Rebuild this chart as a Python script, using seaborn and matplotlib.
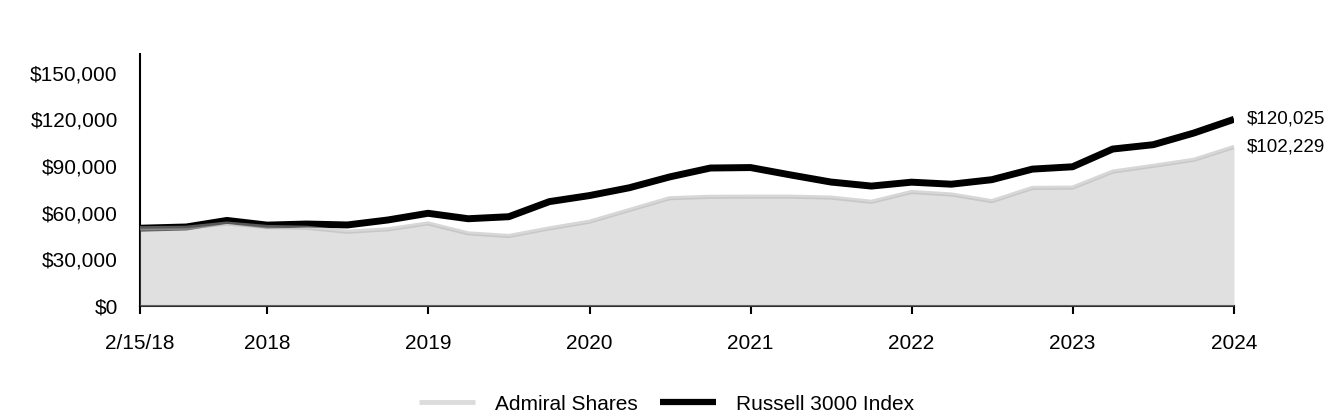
import matplotlib
matplotlib.use("Agg")
import matplotlib.pyplot as plt
from matplotlib.lines import Line2D
from matplotlib.ticker import FuncFormatter
import pandas as pd
import seaborn as sns

dates = ["2018-02-15", "2018-05-31", "2018-08-31", "2018-11-30",
         "2019-02-28", "2019-05-31", "2019-08-31", "2019-11-30",
         "2020-02-29", "2020-05-31", "2020-08-31", "2020-11-30",
         "2021-02-28", "2021-05-31", "2021-08-31", "2021-11-30",
         "2022-02-28", "2022-05-31", "2022-08-31", "2022-11-30",
         "2023-02-28", "2023-05-31", "2023-08-31", "2023-11-30",
         "2024-02-29", "2024-05-31", "2024-08-31", "2024-11-30"]

admiral = [50000, 50300, 53000, 50800, 50300, 47700, 49300, 53100,
           46700, 45000, 49900, 54200, 61700, 69300, 70200, 70300,
           70300, 69700, 67000, 73300, 71700, 67400, 75900, 76100,
           86400, 90100, 94000, 102229]

russell = [50000, 50800, 55000, 52000, 52700, 52100, 55300, 59600,
           56100, 57400, 67100, 71000, 76000, 83000, 88700, 89000,
           84300, 79700, 77100, 79600, 78300, 81200, 88000, 89500,
           100900, 103700, 111200, 120025]

series_names = ["Admiral Shares", "Russell 3000 Index"]
tick_dates = ["2018-02-15", "2018-11-30", "2019-11-30", "2020-11-30",
              "2021-11-30", "2022-11-30", "2023-11-30", "2024-11-30"]
tick_labels = ["2/15/18", "2018", "2019", "2020", "2021", "2022", "2023", "2024"]
y_ticks = [0, 30000, 60000, 90000, 120000, 150000]

sns.set_style("white")
plt.rcParams["font.family"] = ["Liberation Sans", "DejaVu Sans"]
plt.rcParams["text.color"] = "black"
plt.rcParams["xtick.color"] = "black"
plt.rcParams["ytick.color"] = "black"
plt.rcParams["axes.labelcolor"] = "black"

df = pd.DataFrame({"date": pd.to_datetime(dates), "admiral": admiral, "russell": russell})

fig = plt.figure(figsize=(13.44, 4.2), dpi=100)
ax = fig.add_axes([140 / 1344, 1 - 306 / 420, (1234 - 140) / 1344, (306 - 54) / 420])

sns.lineplot(data=df, x="date", y="russell", color="black", lw=5, ax=ax, zorder=2,
             solid_capstyle="butt")
ax.fill_between(df["date"], 0, df["admiral"], facecolor=(0.76, 0.76, 0.76), alpha=0.5,
                lw=0, zorder=3)
sns.lineplot(data=df, x="date", y="admiral", color="#b0b0b0", alpha=0.5, lw=3, ax=ax,
             zorder=4)

ax.set_xlim(df["date"].iloc[0], df["date"].iloc[-1])
ax.set_ylim(0, 162000)
ax.set_xlabel("")
ax.set_ylabel("")

ax.set_xticks(pd.to_datetime(tick_dates))
ax.set_xticklabels(tick_labels)
ax.set_yticks(y_ticks)
ax.yaxis.set_major_formatter(FuncFormatter(lambda v, p: f"${v:,.0f}"))

ax.tick_params(axis="x", length=6, width=1.5, colors="black", pad=14, labelsize=15,
               bottom=True)
ax.tick_params(axis="y", length=0, pad=16, labelsize=15, colors="black")

for s in ["top", "right"]:
    ax.spines[s].set_visible(False)
for s in ["left", "bottom"]:
    ax.spines[s].set_color("black")
    ax.spines[s].set_linewidth(1.5)

last = df.iloc[-1]
ax.annotate(f"${last['russell']:,.0f}", xy=(last["date"], last["russell"]),
            xytext=(9, 0), textcoords="offset points", va="center", ha="left",
            fontsize=13.5, color="black", annotation_clip=False)
ax.annotate(f"${last['admiral']:,.0f}", xy=(last["date"], last["admiral"]),
            xytext=(9, 0), textcoords="offset points", va="center", ha="left",
            fontsize=13.5, color="black", annotation_clip=False)

handles = [Line2D([], [], color="#dcdcdc", lw=3.5, solid_capstyle="butt"),
           Line2D([], [], color="black", lw=4.5, solid_capstyle="butt")]
fig.legend(handles, series_names, loc="center", bbox_to_anchor=(0.496, 0.038), ncol=2,
           frameon=False, fontsize=15, handlelength=2.7, handletextpad=0.95,
           columnspacing=1.05, labelcolor="black")

fig.savefig("out.png", dpi=100)
